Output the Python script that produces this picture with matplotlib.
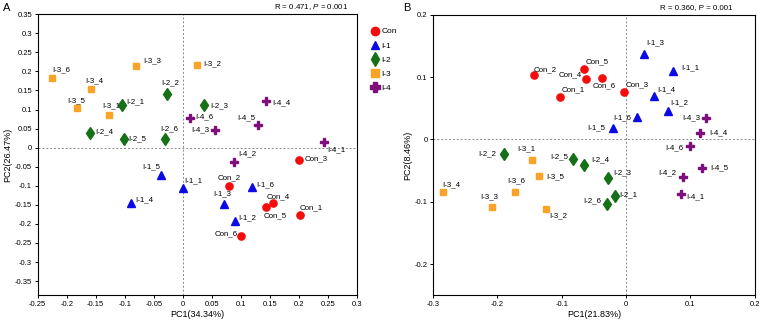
import matplotlib
matplotlib.use("Agg")
import matplotlib.pyplot as plt
from matplotlib.lines import Line2D

plt.rcParams['font.family'] = ['Liberation Sans', 'DejaVu Sans']
plt.rcParams['mathtext.fontset'] = 'custom'
plt.rcParams['mathtext.rm'] = 'Liberation Sans'
plt.rcParams['mathtext.it'] = 'Liberation Sans:italic'

groups = ['Con', 'I-1', 'I-2', 'I-3', 'I-4']

# panel A (PC1 34.34%, PC2 26.47%)
a_names = {
    'Con': ['Con_1', 'Con_2', 'Con_3', 'Con_4', 'Con_5', 'Con_6'],
    'I-1': ['I-1_1', 'I-1_2', 'I-1_3', 'I-1_4', 'I-1_5', 'I-1_6'],
    'I-2': ['I-2_1', 'I-2_2', 'I-2_3', 'I-2_4', 'I-2_5', 'I-2_6'],
    'I-3': ['I-3_1', 'I-3_2', 'I-3_3', 'I-3_4', 'I-3_5', 'I-3_6'],
    'I-4': ['I-4_1', 'I-4_2', 'I-4_3', 'I-4_4', 'I-4_5', 'I-4_6'],
}
a_pc1 = {
    'Con': [0.202, 0.080, 0.200, 0.155, 0.143, 0.101],
    'I-1': [0.001, 0.090, 0.071, -0.089, -0.038, 0.120],
    'I-2': [-0.104, -0.027, 0.037, -0.160, -0.101, -0.031],
    'I-3': [-0.127, 0.025, -0.081, -0.158, -0.183, -0.225],
    'I-4': [0.243, 0.089, 0.056, 0.144, 0.130, 0.012],
}
a_pc2 = {
    'Con': [-0.176, -0.100, -0.032, -0.146, -0.157, -0.232],
    'I-1': [-0.106, -0.192, -0.147, -0.145, -0.071, -0.102],
    'I-2': [0.112, 0.142, 0.111, 0.038, 0.022, 0.022],
    'I-3': [0.086, 0.218, 0.213, 0.154, 0.103, 0.184],
    'I-4': [0.015, -0.038, 0.046, 0.122, 0.059, 0.079],
}

# panel B (PC1 21.83%, PC2 8.46%)
b_pc1 = {
    'Con': [-0.103, -0.144, -0.003, -0.063, -0.065, -0.037],
    'I-1': [0.073, 0.065, 0.028, 0.044, -0.020, 0.017],
    'I-2': [-0.018, -0.190, -0.028, -0.066, -0.083, -0.030],
    'I-3': [-0.147, -0.124, -0.208, -0.284, -0.135, -0.173],
    'I-4': [0.085, 0.089, 0.125, 0.115, 0.118, 0.100],
}
b_pc2 = {
    'Con': [0.068, 0.103, 0.076, 0.097, 0.113, 0.099],
    'I-1': [0.110, 0.046, 0.137, 0.069, 0.018, 0.036],
    'I-2': [-0.091, -0.023, -0.062, -0.041, -0.031, -0.104],
    'I-3': [-0.033, -0.111, -0.109, -0.085, -0.058, -0.085],
    'I-4': [-0.088, -0.061, 0.035, 0.011, -0.046, -0.011],
}

# label offsets in pixels (dx, dy)
a_off = {
    'Con': [(11, 7), (0, 8), (17, 1), (5, 7), (9, -8), (-15, 2)],
    'I-1': [(10, 7), (12, 3), (-2, 10), (13, 3), (-10, 8), (13, 2)],
    'I-2': [(13, 3), (3, 11), (15, 0), (14, 1), (13, 1), (4, 11)],
    'I-3': [(2, 9), (15, 1), (16, 6), (3, 8), (0, 8), (9, 8)],
    'I-4': [(12, -8), (13, 8), (-15, 0), (15, -2), (-12, 7), (15, 1)],
}
b_off = {
    'Con': [(13, 7), (12, 6), (13, 7), (-15, 4), (13, 7), (2, -8)],
    'I-1': [(17, 3), (11, 8), (11, 11), (12, 7), (-17, 0), (-15, -1)],
    'I-2': [(14, 1), (-17, 0), (14, 5), (17, 5), (-13, 2), (-15, 3)],
    'I-3': [(-5, 11), (12, -7), (-3, 11), (8, 8), (16, -1), (1, 12)],
    'I-4': [(15, -2), (-16, 5), (-15, 0), (18, 0), (17, 0), (-16, -1)],
}

colors = {'Con': '#f50d0d', 'I-1': '#0a0ae6', 'I-2': '#167016',
          'I-3': '#fba326', 'I-4': '#7d0f7d'}
markers = {'Con': 'o', 'I-1': '^', 'I-2': 'd', 'I-3': 's', 'I-4': 'P'}
msize = {'Con': 5.2, 'I-1': 5.5, 'I-2': 6.5, 'I-3': 4.6, 'I-4': 5.8}

fig = plt.figure(figsize=(7.6, 3.24), dpi=100)
axA = fig.add_axes([0.0496, 0.089, 0.4201, 0.867])
axB = fig.add_axes([0.570, 0.089, 0.423, 0.865])


def draw(ax, xs, ys, offs):
    ax.axhline(0, color='#888888', lw=0.7, ls=(0, (2, 2)), zorder=1)
    ax.axvline(0, color='#888888', lw=0.7, ls=(0, (2, 2)), zorder=1)
    for g in groups:
        ax.plot(xs[g], ys[g], ls='none', marker=markers[g], color=colors[g],
                ms=msize[g], mec=colors[g], zorder=3)
        for name, x, y, o in zip(a_names[g], xs[g], ys[g], offs[g]):
            ax.annotate(name, (x, y), xytext=o, textcoords='offset pixels',
                        ha='center', va='center', fontsize=5.7)
    for s in ax.spines.values():
        s.set_linewidth(0.8)
    ax.tick_params(labelsize=5.5, length=2.5, width=0.7, pad=1.5)


draw(axA, a_pc1, a_pc2, a_off)
axA.set_xlim(-0.25, 0.3)
axA.set_ylim(-0.387, 0.35)
axA.set_xticks([-0.25, -0.2, -0.15, -0.1, -0.05, 0, 0.05, 0.1, 0.15, 0.2, 0.25, 0.3])
axA.set_xticklabels(['-0.25', '-0.2', '-0.15', '-0.1', '-0.05', '0', '0.05', '0.1',
                     '0.15', '0.2', '0.25', '0.3'])
yt = [-0.35, -0.3, -0.25, -0.2, -0.15, -0.1, -0.05, 0, 0.05, 0.1, 0.15, 0.2, 0.25, 0.3, 0.35]
axA.set_yticks(yt)
axA.set_yticklabels(['-0.35', '-0.3', '-0.25', '-0.2', '-0.15', '-0.1', '-0.05', '0',
                     '0.05', '0.1', '0.15', '0.2', '0.25', '0.3', '0.35'])
axA.set_xlabel('PC1(34.34%)', fontsize=6.5, labelpad=2)
axA.set_ylabel('PC2(26.47%)', fontsize=6.5, labelpad=2)

draw(axB, b_pc1, b_pc2, b_off)
axB.set_xlim(-0.3, 0.2)
axB.set_ylim(-0.25, 0.2)
axB.set_xticks([-0.3, -0.2, -0.1, 0, 0.1, 0.2])
axB.set_xticklabels(['-0.3', '-0.2', '-0.1', '0', '0.1', '0.2'])
axB.set_yticks([-0.2, -0.1, 0, 0.1, 0.2])
axB.set_yticklabels(['-0.2', '-0.1', '0', '0.1', '0.2'])
axB.set_xlabel('PC1(21.83%)', fontsize=6.5, labelpad=2)
axB.set_ylabel('PC2(8.46%)', fontsize=6.5, labelpad=2)

fig.text(348 / 760, 0.978, r'R = 0.471, $\mathit{P}$ = 0.001',
         ha='right', va='center', fontsize=5.7)
fig.text(732 / 760, 0.978, 'R = 0.360, P = 0.001',
         ha='right', va='center', fontsize=5.7)

fig.text(0.004, 0.975, 'A', fontsize=8, va='center')
fig.text(0.530, 0.975, 'B', fontsize=8, va='center')

handles = [Line2D([], [], ls='none', marker=markers[g], color=colors[g],
                  ms=msize[g] + 0.8) for g in groups]
fig.legend(handles, groups, loc='upper left', bbox_to_anchor=(0.483, 0.925),
           frameon=False, fontsize=6, handletextpad=0.3, labelspacing=0.75,
           handlelength=1.0, borderaxespad=0)

fig.savefig('out.png', dpi=100)
